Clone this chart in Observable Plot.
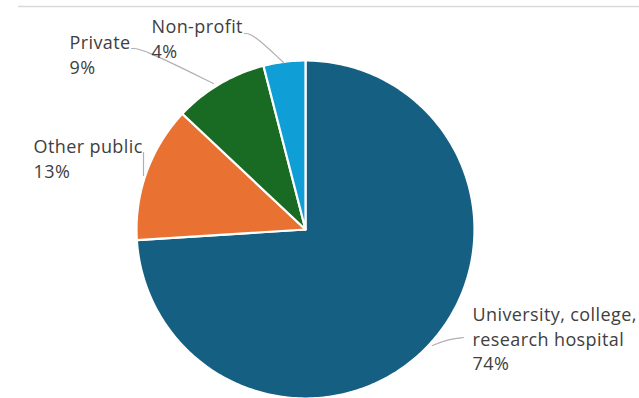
<!DOCTYPE html>
<html><head><meta charset="utf-8">
<script src="https://cdn.jsdelivr.net/npm/d3@7"></script>
<script src="https://cdn.jsdelivr.net/npm/@observablehq/plot@0.6"></script>
<style>body{margin:0;background:#fff;overflow:hidden} svg text{letter-spacing:0.4px}</style>
</head><body><div id="chart"></div>
<script>
// ---- data ----
const categories = ["University, college, research hospital", "Other public", "Private", "Non-profit"];
const labelNames = ["University, college,\nresearch hospital", "Other public", "Private", "Non-profit"];
const values = [74, 13, 9, 4];
const colors = ["#156082", "#E97132", "#196B24", "#0F9ED5"];

// ---- layout (pixel frame -> unit circle coordinates) ----
const W = 639, H = 398, CX = 305, CY = 229, R = 169;
const U = px => (px - CX) / R;
const V = py => (CY - py) / R;

// slices from d3.pie (angle 0 at top, clockwise)
const arcs = d3.pie().sort(null).value(d => d)(values);
const slicePts = [];
arcs.forEach((a, i) => {
  const n = Math.max(8, Math.ceil((a.endAngle - a.startAngle) * 60));
  slicePts.push({cat: categories[i], x: 0, y: 0});
  for (let k = 0; k <= n; k++) {
    const t = a.startAngle + (a.endAngle - a.startAngle) * k / n;
    slicePts.push({cat: categories[i], x: Math.sin(t), y: Math.cos(t)});
  }
  slicePts.push({cat: categories[i], x: 0, y: 0});
});

// label anchor positions (pixels: left x, top y of first line)
const labelPos = [[472, 303.5], [33, 135.5], [69, 31.5], [151, 15.5]];
const labelData = categories.map((c, i) => ({
  x: U(labelPos[i][0]), y: V(labelPos[i][1]),
  text: labelNames[i] + "\n" + values[i] + "%"
}));

// leader lines (pixels)
const leaders = [
  [[432, 345], [447, 339], [463, 337]],
  [[143, 152], [143, 175]],
  [[131, 48], [142, 48], [213, 83]],
  [[244, 33], [252, 33], [283, 62]]
];
const leaderPts = leaders.flatMap((pts, i) => pts.map(p => ({id: i, x: U(p[0]), y: V(p[1])})));

const font = "'Open Sans', sans-serif";
const chart = Plot.plot({
  width: W, height: H, margin: 0,
  style: {background: "#fff", fontFamily: font},
  x: {domain: [-1, 1], range: [CX - R, CX + R], axis: null},
  y: {domain: [-1, 1], range: [CY + R, CY - R], axis: null},
  color: {domain: categories, range: colors},
  marks: [
    Plot.ruleY([V(6)], {x1: U(18), x2: U(W), stroke: "#d9d9d9", strokeWidth: 1.5}),
    Plot.line(slicePts, {x: "x", y: "y", z: "cat", fill: "cat", stroke: "white", strokeWidth: 2.2, strokeLinejoin: "round"}),
    Plot.line(leaderPts, {x: "x", y: "y", z: "id", stroke: "#b0b0b0", strokeWidth: 1.2, curve: "basis"}),
    Plot.text(labelData, {x: "x", y: "y", text: "text", textAnchor: "start", lineAnchor: "top", fontSize: 18, lineHeight: 1.36, fill: "#404040", fontFamily: font})
  ]
});
document.getElementById("chart").append(chart);
</script>
</body></html>
